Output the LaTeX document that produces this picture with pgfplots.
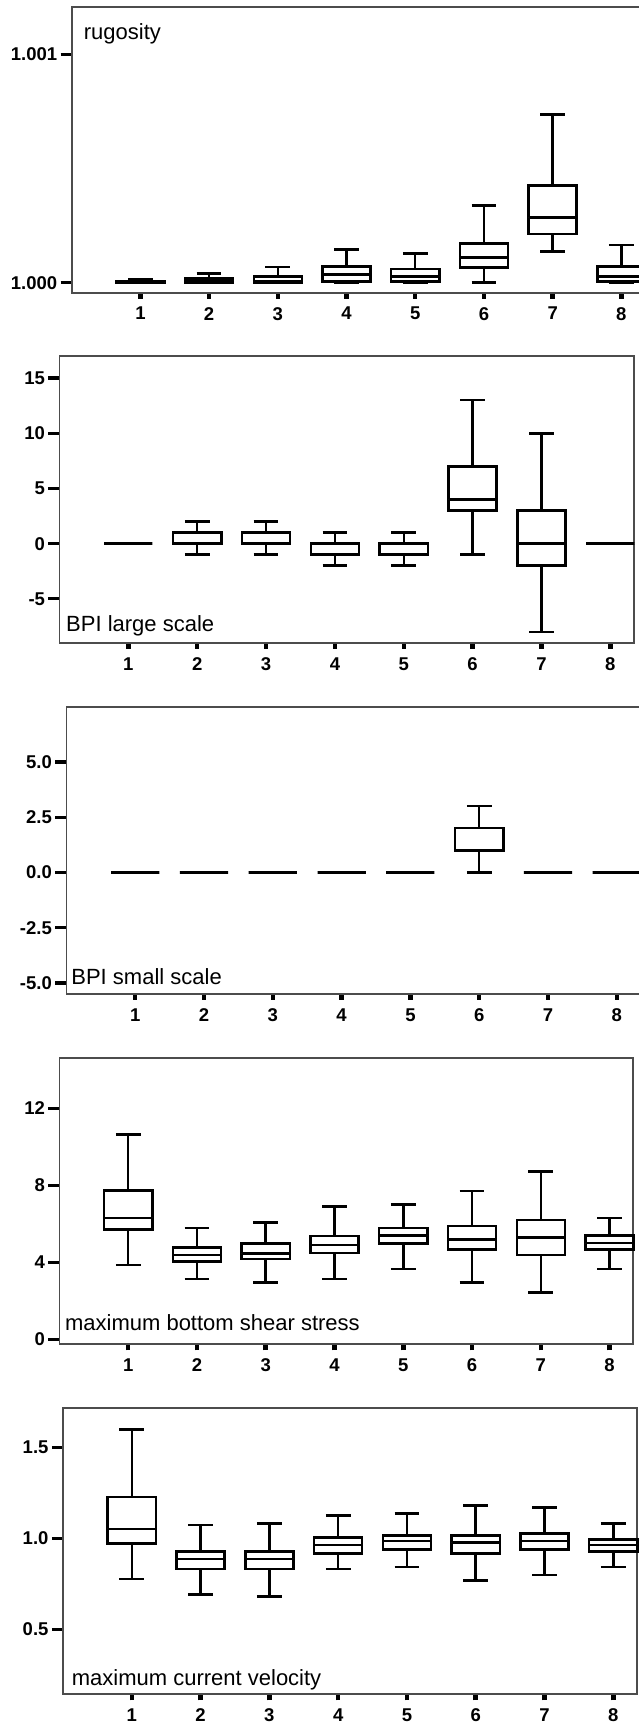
\documentclass[border=0pt]{standalone}
\usepackage{pgfplots}
\pgfplotsset{compat=1.18}
\usepackage{pgfplotstable}
\usepgfplotslibrary{statistics}
\usepackage{fontspec}
\setmainfont{Liberation Sans}

% columns: lw = lower whisker, lq = lower quartile, med = median, uq = upper quartile, uw = upper whisker
% rugosity is stored as (rugosity - 1) x 1000, ticks relabelled 1.000 / 1.001
\pgfplotstableread{
lw lq med uq uw
0 0 0.002 0.007 0.016
0 0 0.009 0.018 0.041
0 0 0.007 0.028 0.069
0 0.006 0.035 0.070 0.145
0 0.006 0.026 0.061 0.128
0 0.067 0.111 0.172 0.337
0.137 0.213 0.285 0.425 0.737
0 0.006 0.026 0.070 0.165
}\rugosity

\pgfplotstableread{
lw lq med uq uw
0 0 0 0 0
-1 0 1 1 2
-1 0 1 1 2
-2 -1 0 0 1
-2 -1 0 0 1
-1 3 4 7 13
-8 -2 0 3 10
0 0 0 0 0
}\bpilarge

\pgfplotstableread{
lw lq med uq uw
0 0 0 0 0
0 0 0 0 0
0 0 0 0 0
0 0 0 0 0
0 0 0 0 0
0 1 2 2 3
0 0 0 0 0
0 0 0 0 0
}\bpismall

\pgfplotstableread{
lw lq med uq uw
3.86 5.70 6.31 7.73 10.64
3.13 4.05 4.39 4.77 5.79
2.94 4.17 4.46 4.97 6.08
3.13 4.48 4.89 5.36 6.89
3.64 4.97 5.40 5.79 7.00
2.94 4.66 5.19 5.89 7.71
2.43 4.37 5.28 6.21 8.71
3.64 4.66 4.99 5.38 6.30
}\shear

\pgfplotstableread{
lw lq med uq uw
0.778 0.974 1.053 1.228 1.600
0.692 0.833 0.888 0.930 1.075
0.681 0.833 0.888 0.930 1.084
0.833 0.919 0.965 1.007 1.128
0.844 0.941 0.987 1.018 1.139
0.769 0.919 0.978 1.018 1.183
0.800 0.941 0.987 1.029 1.172
0.844 0.930 0.965 0.996 1.084
}\velocity

\newcommand{\titlefont}{\fontsize{22}{22}\selectfont}

\pgfplotsset{
  panel/.style={
    scale only axis,
    anchor=south west,
    xmin=0, xmax=8.34,
    xtick={1,...,8},
    xticklabels={1,2,3,4,5,6,7,8},
    xtick pos=bottom, ytick pos=left,
    tick align=outside,
    major tick length=11pt,
    ytick style={black, line width=3.2pt},
    xtick style={black, line width=4.5pt, /pgfplots/major tick length=6pt},
    axis line style={black!70, line width=1.7pt},
    tick label style={font=\fontsize{18.5}{18.5}\selectfont\bfseries},
    boxplot/draw direction=y,
    boxplot/box extend=0.7,
    boxplot/whisker extend=0.36,
    clip=false,
  },
  bx/.style={draw=black, line width=2.5pt, fill=white, solid},
}

\newcommand{\boxes}[1]{%
  \pgfplotsinvokeforeach{0,...,7}{%
    \pgfplotstablegetelem{##1}{lw}\of#1\let\bLW\pgfplotsretval
    \pgfplotstablegetelem{##1}{lq}\of#1\let\bLQ\pgfplotsretval
    \pgfplotstablegetelem{##1}{med}\of#1\let\bMD\pgfplotsretval
    \pgfplotstablegetelem{##1}{uq}\of#1\let\bUQ\pgfplotsretval
    \pgfplotstablegetelem{##1}{uw}\of#1\let\bUW\pgfplotsretval
    \pgfmathtruncatemacro\bPOS{##1+1}%
    \edef\doplot{\noexpand\addplot[bx, boxplot prepared={draw direction=y, draw position=\bPOS,
        lower whisker=\bLW, lower quartile=\bLQ, median=\bMD,
        upper quartile=\bUQ, upper whisker=\bUW}] coordinates {};}%
    \doplot
  }%
}

\begin{document}
\begin{tikzpicture}
\path[use as bounding box, clip] (0pt,0pt) rectangle (639pt,1727pt);

% rugosity
\begin{axis}[panel, at={(71.7pt,1434.3pt)}, width=573pt, height=285.4pt,
  ymin=-0.0438, ymax=1.206, ytick={0,1}, yticklabels={1.000,1.001}]
\boxes{\rugosity}
\node[anchor=base west, inner sep=0pt, font=\titlefont] at ([shift={(12pt,-32pt)}]rel axis cs:0,1) {rugosity};
\end{axis}

% BPI large scale
\begin{axis}[panel, at={(59.5pt,1084pt)}, width=574.2pt, height=287pt,
  ymin=-9, ymax=17, ytick={-5,0,5,10,15}, yticklabels={-5,0,5,10,15}]
\boxes{\bpilarge}
\node[anchor=base west, inner sep=0pt, font=\titlefont] at ([shift={(6.5pt,11pt)}]rel axis cs:0,0) {BPI large scale};
\end{axis}

% BPI small scale
\begin{axis}[panel, at={(66.4pt,733pt)}, width=573.8pt, height=287.3pt,
  ymin=-5.5, ymax=7.5, ytick={-5,-2.5,0,2.5,5}, yticklabels={-5.0,-2.5,0.0,2.5,5.0}]
\boxes{\bpismall}
\node[anchor=base west, inner sep=0pt, font=\titlefont] at ([shift={(4.8pt,9pt)}]rel axis cs:0,0) {BPI small scale};
\end{axis}

% maximum bottom shear stress
\begin{axis}[panel, at={(59.4pt,382.7pt)}, width=573.6pt, height=286.6pt,
  ymin=-0.26, ymax=14.63, ytick={0,4,8,12}, yticklabels={0,4,8,12}]
\boxes{\shear}
\node[anchor=base west, inner sep=0pt, font=\titlefont] at ([shift={(5.5pt,14pt)}]rel axis cs:0,0) {maximum bottom shear stress};
\end{axis}

% maximum current velocity
\begin{axis}[panel, at={(63pt,32.7pt)}, width=573.7pt, height=286.6pt,
  ymin=0.143, ymax=1.72, ytick={0.5,1,1.5}, yticklabels={0.5,1.0,1.5}]
\boxes{\velocity}
\node[anchor=base west, inner sep=0pt, font=\titlefont] at ([shift={(8.7pt,9.3pt)}]rel axis cs:0,0) {maximum current velocity};
\end{axis}
\end{tikzpicture}
\end{document}
